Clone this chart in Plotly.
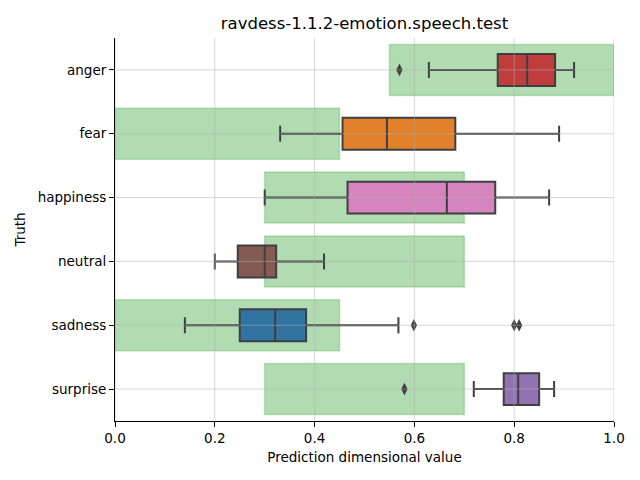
import plotly.graph_objects as go

categories = ["anger", "fear", "happiness", "neutral", "sadness", "surprise"]

# expected ranges (green bands)
range_low = [0.55, 0.0, 0.30, 0.30, 0.0, 0.30]
range_high = [1.0, 0.45, 0.70, 0.70, 0.45, 0.70]

# box statistics
whisker_low = [0.629, 0.331, 0.300, 0.200, 0.140, 0.719]
q1 = [0.767, 0.456, 0.466, 0.246, 0.250, 0.779]
median = [0.826, 0.545, 0.665, 0.300, 0.321, 0.808]
q3 = [0.882, 0.682, 0.762, 0.323, 0.383, 0.850]
whisker_high = [0.920, 0.890, 0.870, 0.419, 0.568, 0.880]

box_colors = ["#c03d3e", "#e1812c", "#d684bd", "#845b53", "#3274a1", "#9372b2"]

outlier_cat = ["anger", "sadness", "sadness", "sadness", "surprise"]
outlier_val = [0.570, 0.599, 0.800, 0.810, 0.580]

x_ticks = [0.0, 0.2, 0.4, 0.6, 0.8, 1.0]

fig = go.Figure()

fig.add_trace(go.Bar(
    orientation="h",
    y=categories,
    x=[h - l for l, h in zip(range_low, range_high)],
    base=range_low,
    width=0.8,
    marker=dict(color="rgba(44,160,44,0.37)",
                line=dict(color="rgba(44,160,44,0.28)", width=1.5)),
    showlegend=False,
    hoverinfo="skip",
))

for i, c in enumerate(categories):
    fig.add_trace(go.Box(
        orientation="h",
        y=[c],
        q1=[q1[i]], median=[median[i]], q3=[q3[i]],
        lowerfence=[whisker_low[i]], upperfence=[whisker_high[i]],
        width=0.5,
        whiskerwidth=0.5,
        fillcolor=box_colors[i],
        line=dict(color="#3f3f3f", width=2),
        boxpoints=False,
        showlegend=False,
    ))

fig.add_trace(go.Scatter(
    x=outlier_val, y=outlier_cat, mode="markers",
    marker=dict(symbol="diamond-tall", size=9, color="#3f3f3f"),
    showlegend=False,
))

# grid lines drawn above marks, like the reference
for xv in x_ticks:
    fig.add_shape(type="line", xref="x", yref="paper", x0=xv, x1=xv, y0=0, y1=1,
                  line=dict(color="rgba(176,176,176,0.5)", width=1), layer="above")
for c in categories:
    fig.add_shape(type="line", xref="paper", yref="y", x0=0, x1=1, y0=c, y1=c,
                  line=dict(color="rgba(176,176,176,0.5)", width=1), layer="above")

font = "DejaVu Sans, sans-serif"
tick_font = dict(family=font, size=13.5, color="#000000")
fig.update_layout(
    width=640, height=480,
    margin=dict(l=115, r=26, t=38, b=59),
    paper_bgcolor="white", plot_bgcolor="white",
    font=dict(family=font, size=13.5, color="#000000"),
    title=dict(text="ravdess-1.1.2-emotion.speech.test", x=0.5, xref="paper",
               y=1 - 23 / 480, yref="container", yanchor="middle",
               font=dict(size=16.5, family=font, color="#000000")),
    boxmode="overlay",
    xaxis=dict(range=[0, 1], tickvals=x_ticks, tickformat=".1f",
               showgrid=False, zeroline=False, showline=True, linecolor="black",
               linewidth=1, ticks="outside", ticklen=5, tickcolor="black",
               tickfont=tick_font, automargin=False,
               title=dict(text="Prediction dimensional value", standoff=7,
                          font=tick_font)),
    yaxis=dict(categoryorder="array", categoryarray=categories,
               range=[5.5, -0.5], showgrid=False, zeroline=False,
               showline=True, linecolor="black", linewidth=1,
               ticks="outside", ticklen=5, tickcolor="black",
               tickfont=tick_font, automargin=False,
               title=dict(text="Truth", standoff=8, font=tick_font)),
)

fig.write_html("out.html", config={"displayModeBar": False},
               post_script="document.body.style.margin='0';")
